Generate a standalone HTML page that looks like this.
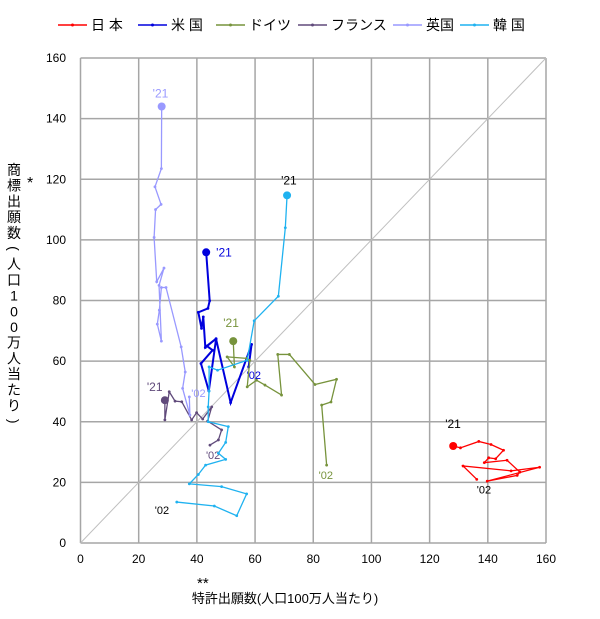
<!DOCTYPE html>
<html><head><meta charset="utf-8"><style>
body{margin:0;background:#fff;}
svg text{font-family:"Liberation Sans","Noto Sans CJK JP",sans-serif;}
</style></head><body>
<svg width="600" height="614" xmlns="http://www.w3.org/2000/svg">
<g id="grid"></g>
<g id="legend"></g>
<g id="series"></g>
<g id="ytitle"></g>
<text x="27" y="188" font-size="16" fill="#000">*</text>
<text x="197" y="588" font-size="15" fill="#000">**</text>
<text x="285" y="603" font-size="13" text-anchor="middle" fill="#000">特許出願数(人口100万人当たり)</text>
</svg>
<script>
const xTicks=[0,20,40,60,80,100,120,140,160];
const yTicks=[0,20,40,60,80,100,120,140,160];
const seriesNames=["日 本","米 国","ドイツ","フランス","英国","韓 国"];
const seriesColors=["#ff0000","#0000dd","#77933c","#604a7b","#9999ff","#1fb2f0"];
const japan=[[136.2,21.0],[131.5,25.4],[148,23.8],[157.8,25.0],[139.8,20.4],[150.1,22.3],[151,23.4],[146.6,27.3],[138.8,26.5],[140.3,28.1],[142.7,27.8],[145.4,30.6],[141.1,32.5],[136.9,33.5],[130.6,31.4],[128.1,32.0]];
const usa=[[57.8,58.1],[58.8,65.5],[51.6,46.3],[46.6,67.3],[44.1,50.2],[41.4,59.2],[45.4,63.6],[43.4,65.0],[46.6,67.4],[42.9,64.5],[42.2,74.6],[41.6,70.8],[40.5,76.1],[43.8,77.4],[44.4,79.9],[43.2,95.9]];
const germany=[[84.6,25.7],[82.9,45.5],[86.1,46.5],[88.0,54.0],[80.6,52.3],[71.8,62.2],[67.8,62.2],[69.1,48.8],[63.4,52.1],[60.5,53.7],[57.3,51.5],[58.2,60.3],[57.1,60.9],[50.4,61.4],[52.9,58.1],[52.5,66.6]];
const france=[[44.5,32.3],[47.4,34.0],[48.5,37.3],[43.7,40.2],[45.1,44.9],[42.0,40.9],[39.9,43.0],[38.2,40.6],[34.8,46.6],[32.5,46.8],[30.5,49.9],[29.0,40.6],[29.0,47.1]];
const uk=[[37.4,48.2],[37.6,42.2],[35.1,51.0],[36.0,56.4],[34.6,64.7],[29.4,84.3],[27.8,84.3],[27.1,76.8],[26.4,72.2],[27.8,66.6],[27.0,85],[28.7,90.7],[26.2,86.2],[25.3,100.8],[25.8,110],[27.7,111.7],[25.6,117.5],[27.8,123.5],[27.9,144]];
const korea=[[33.1,13.5],[46.0,12.2],[53.7,9.0],[57.1,16.2],[48.5,18.6],[37.4,19.5],[40.5,22.6],[43.0,25.7],[49.9,27.6],[47.4,29.6],[49.9,33.2],[50.8,38.4],[43.9,40.0],[43.9,44.9],[44.2,50.1],[44.2,58.1],[47.1,57.0],[57.3,60.3],[59.7,73.3],[68.0,81.4],[70.4,104.0],[71.0,114.7]];
const allSeries=[japan,usa,germany,france,uk,korea];
const labelColors=["#000","#0000dd","#77933c","#604a7b","#9999ff","#000"];
const off21=[[-8,-18],[10,4],[-10,-14],[-18,-9],[-9,-9],[-6,-11]];
const off02=[[0,14],[-2,12],[-8,14],[-4,14],[2,0],[-22,12]];

const NS="http://www.w3.org/2000/svg";
const X0=80.5,X1=546,Y0=543,Y1=58;
const sx=v=>X0+(X1-X0)*v/160, sy=v=>Y0-(Y0-Y1)*v/160;
function mk(t,a,p){const e=document.createElementNS(NS,t);for(const k in a)e.setAttribute(k,a[k]);p.appendChild(e);return e;}
const grid=document.getElementById('grid');
xTicks.forEach(v=>{
 const l=mk('line',{x1:sx(v),x2:sx(v),y1:Y1,y2:Y0,stroke:'#a6a6a6','stroke-width':1.5},grid);
 
 
 const t=mk('text',{x:sx(v),y:Y0+20,'font-size':12,'text-anchor':'middle'},grid);t.textContent=v;
 
 
});
yTicks.forEach(v=>{
 const l=mk('line',{x1:X0,x2:X1,y1:sy(v),y2:sy(v),stroke:'#a6a6a6','stroke-width':1.5},grid);
 
 
 const t=mk('text',{x:66,y:sy(v)+4,'font-size':12,'text-anchor':'end'},grid);t.textContent=v;
 
 
});
const d=mk('line',{x1:sx(0),y1:sy(0),x2:sx(160),y2:sy(160),stroke:'#bfbfbf','stroke-width':1},grid);



const lg=document.getElementById('legend');
const lx=[58,138,216,298,393,460];
seriesNames.forEach((n,i)=>{
 const g=mk('g',{},lg);
 
 
 mk('line',{x1:lx[i],x2:lx[i]+29,y1:25,y2:25,stroke:seriesColors[i],'stroke-width':1.5},g);
 mk('circle',{cx:lx[i]+14.5,cy:25,r:1.5,fill:seriesColors[i]},g);
 const t=mk('text',{x:lx[i]+33,y:30,'font-size':14},g);t.textContent=n;
});

const sg=document.getElementById('series');
allSeries.forEach((s,i)=>{
 const g=mk('g',{},sg);
 
 
 mk('polyline',{points:s.map(p=>sx(p[0])+','+sy(p[1])).join(' '),fill:'none',stroke:seriesColors[i],'stroke-width':i==1?2:1.3},g);
 s.forEach((p,j)=>{
  const c=mk('circle',{cx:sx(p[0]),cy:sy(p[1]),r:j==s.length-1?4:1.4,fill:seriesColors[i]},g);
  
  
 });
 const last=s[s.length-1],first=s[0];
 const t1=mk('text',{x:sx(last[0])+off21[i][0],y:sy(last[1])+off21[i][1],'font-size':12,fill:labelColors[i]},g);t1.textContent="'21";
 
 
 const t2=mk('text',{x:sx(first[0])+off02[i][0],y:sy(first[1])+off02[i][1],'font-size':11,fill:labelColors[i]},g);t2.textContent="'02";
 
 
});

const yt=document.getElementById('ytitle');
const chars="商標出願数(人口100万人当たり)".split("");
chars.forEach((c,i)=>{
 const t=mk('text',{x:14,y:175+i*15.7,'font-size':14,'text-anchor':'middle',transform:(c=='('||c==')')?`rotate(90 14 ${170+i*15.7})`:''},yt);
 t.textContent=c;
});
</script>
</body></html>
